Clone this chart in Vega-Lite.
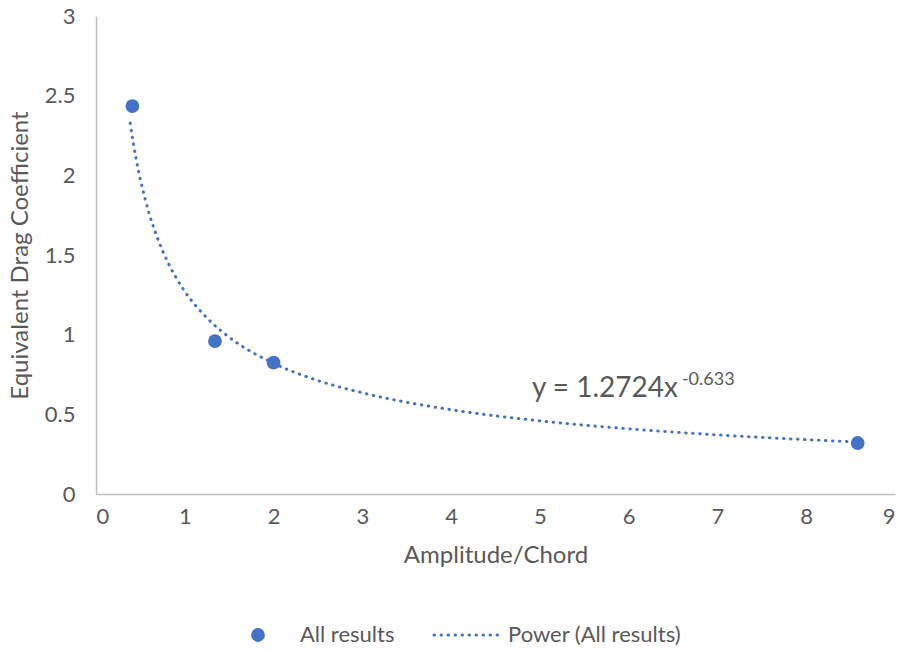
{
  "$schema": "https://vega.github.io/schema/vega-lite/v6.json",
  "width": 799,
  "height": 478,
  "autosize": "none",
  "padding": {"left": 96, "top": 16, "right": 11, "bottom": 158},
  "background": "white",
  "config": {
    "view": {"stroke": null},
    "font": "Lato",
    "axis": {"grid": false, "ticks": false, "domainColor": "#bfbfbf", "domainWidth": 1.5, "labelColor": "#595959", "titleColor": "#595959", "labelFontSize": 22, "titleFontSize": 24, "titleFontWeight": "normal", "labelFont": "Lato", "titleFont": "Lato", "format": "~g"},
    "legend": {"labelFont": "Lato", "labelFontSize": 22, "labelColor": "#595959", "padding": 0, "labelLimit": 400}
  },
  "datasets": {
    "results": [
      {"ratio": 0.41, "cd": 2.435, "series": "All results"},
      {"ratio": 1.34, "cd": 0.96, "series": "All results"},
      {"ratio": 2.0, "cd": 0.824, "series": "All results"},
      {"ratio": 8.58, "cd": 0.32, "series": "All results"}
    ],
    "trend": [
      {"ratio": 0.385, "cd": 2.328},
      {"ratio": 0.42, "cd": 2.203},
      {"ratio": 0.45, "cd": 2.109},
      {"ratio": 0.5, "cd": 1.973},
      {"ratio": 0.55, "cd": 1.858},
      {"ratio": 0.6, "cd": 1.758},
      {"ratio": 0.7, "cd": 1.595},
      {"ratio": 0.8, "cd": 1.465},
      {"ratio": 1.0, "cd": 1.272},
      {"ratio": 1.25, "cd": 1.105},
      {"ratio": 1.5, "cd": 0.984},
      {"ratio": 2.0, "cd": 0.8205},
      {"ratio": 2.5, "cd": 0.712},
      {"ratio": 3.0, "cd": 0.635},
      {"ratio": 4.0, "cd": 0.529},
      {"ratio": 5.0, "cd": 0.459},
      {"ratio": 6.0, "cd": 0.409},
      {"ratio": 7.0, "cd": 0.371},
      {"ratio": 8.0, "cd": 0.341},
      {"ratio": 8.58, "cd": 0.326}
    ]
  },
  "layer": [
    {
      "data": {"name": "trend"},
      "transform": [{"calculate": "'Power (All results)'", "as": "series"}],
      "mark": {"type": "line", "color": "#4472C4", "strokeWidth": 3, "strokeCap": "round", "interpolate": "monotone"},
      "encoding": {
        "x": {"field": "ratio", "type": "quantitative", "scale": {"domain": [0, 9], "nice": false}, "axis": {"values": [0,1,2,3,4,5,6,7,8,9], "title": "Amplitude/Chord", "labelPadding": 12, "titlePadding": 16}},
        "y": {"field": "cd", "type": "quantitative", "scale": {"domain": [0, 3], "nice": false}, "axis": {"values": [0,0.5,1,1.5,2,2.5,3], "title": "Equivalent Drag Coefficient", "labelPadding": 21, "titlePadding": 12}},
        "strokeDash": {"field": "series", "type": "nominal", "scale": {"range": [[0.5, 6.5]]}, "legend": {"title": null, "orient": "none", "legendX": 359, "legendY": 608, "symbolType": "M-4,0H4", "symbolSize": 256, "symbolStrokeWidth": 3, "symbolStrokeColor": "#4472C4", "symbolFillColor": "transparent", "labelOffset": 31, "encode": {"symbols": {"update": {"strokeCap": {"value": "round"}, "stroke": {"value": "#4472C4"}, "strokeWidth": {"value": 3}}}}}}
      }
    },
    {
      "data": {"name": "results"},
      "mark": {"type": "point", "filled": true, "opacity": 1, "size": 190, "shape": "circle"},
      "encoding": {
        "x": {"field": "ratio", "type": "quantitative"},
        "y": {"field": "cd", "type": "quantitative"},
        "color": {"field": "series", "type": "nominal", "scale": {"range": ["#4472C4"]}, "legend": {"title": null, "orient": "none", "legendX": 151, "legendY": 608, "symbolType": "circle", "symbolSize": 190, "symbolOpacity": 1, "labelOffset": 31}}
      }
    },
    {
      "data": {"values": [{}]},
      "mark": {"type": "text", "text": "y = 1.2724x", "align": "left", "baseline": "alphabetic", "fontSize": 28, "color": "#595959"},
      "encoding": {"x": {"datum": 4.91}, "y": {"datum": 0.609}}
    },
    {
      "data": {"values": [{}]},
      "mark": {"type": "text", "text": "-0.633", "align": "left", "baseline": "alphabetic", "fontSize": 18, "color": "#595959"},
      "encoding": {"x": {"datum": 6.6}, "y": {"datum": 0.684}}
    }
  ]
}
